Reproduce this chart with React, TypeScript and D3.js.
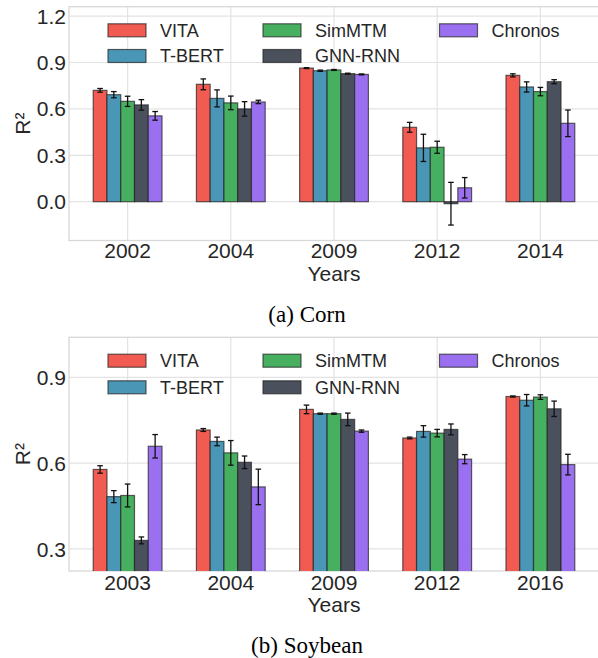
import React, { useEffect, useRef } from 'react';
import * as d3 from 'd3';

const methods = ['VITA', 'T-BERT', 'SimMTM', 'GNN-RNN', 'Chronos'];
const colors = ['#f25b51', '#4a96b6', '#46b060', '#4a505c', '#9b70f0'];

// Corn
const cornYears = ['2002', '2004', '2009', '2012', '2014'];
const cornVITA = [0.72, 0.759, 0.864, 0.481, 0.817];
const cornVITAErr = [0.012, 0.035, 0.003, 0.032, 0.01];
const cornTBERT = [0.692, 0.668, 0.847, 0.348, 0.742];
const cornTBERTErr = [0.02, 0.055, 0.004, 0.088, 0.033];
const cornSimMTM = [0.649, 0.639, 0.852, 0.352, 0.712];
const cornSimMTMErr = [0.033, 0.044, 0.003, 0.039, 0.027];
const cornGNNRNN = [0.626, 0.6, 0.828, -0.013, 0.776];
const cornGNNRNNErr = [0.034, 0.047, 0.003, 0.138, 0.013];
const cornChronos = [0.555, 0.645, 0.823, 0.09, 0.507];
const cornChronosErr = [0.028, 0.011, 0.003, 0.066, 0.086];
const cornTicks = [0, 0.3, 0.6, 0.9, 1.2];

// Soybean
const soyYears = ['2003', '2004', '2009', '2012', '2016'];
const soyVITA = [0.578, 0.716, 0.788, 0.688, 0.833];
const soyVITAErr = [0.013, 0.005, 0.015, 0.003, 0.002];
const soyTBERT = [0.483, 0.676, 0.773, 0.711, 0.82];
const soyTBERTErr = [0.021, 0.015, 0.002, 0.02, 0.02];
const soySimMTM = [0.487, 0.636, 0.773, 0.705, 0.831];
const soySimMTMErr = [0.04, 0.043, 0.002, 0.013, 0.008];
const soyGNNRNN = [0.33, 0.603, 0.753, 0.718, 0.79];
const soyGNNRNNErr = [0.012, 0.022, 0.022, 0.019, 0.027];
const soyChronos = [0.659, 0.517, 0.712, 0.614, 0.595];
const soyChronosErr = [0.041, 0.062, 0.004, 0.016, 0.036];
const soyTicks = [0.3, 0.6, 0.9];

const W = 598;
const H = 658;
const sans = '"Liberation Sans", Arial, sans-serif';
const serif = '"Liberation Serif", "Times New Roman", serif';

interface PanelCfg {
  id: string;
  years: string[];
  means: number[][];
  errs: number[][];
  ticks: number[];
  yDomain: [number, number];
  top: number;
  bottom: number;
  legendRows: [number, number];
  tickBase: number;
  labelBase: number;
  captionBase: number;
  caption: string;
}

const drawPanel = (
  svg: d3.Selection<SVGSVGElement, unknown, null, undefined>,
  cfg: PanelCfg,
) => {
  const left = 69;
  const right = 599;
  const x = d3.scaleLinear().domain([-0.568, 4.568]).range([left, right]);
  const y = d3.scaleLinear().domain(cfg.yDomain).range([cfg.bottom, cfg.top]);
  const bw = (x(1) - x(0)) * (0.8 / 6);

  const g = svg.append('g');

  g.append('clipPath')
    .attr('id', `clip-${cfg.id}`)
    .append('rect')
    .attr('x', left)
    .attr('y', cfg.top)
    .attr('width', right - left)
    .attr('height', cfg.bottom - cfg.top);

  // grid
  g.append('g')
    .selectAll('line')
    .data(cfg.ticks)
    .join('line')
    .attr('x1', left)
    .attr('x2', right)
    .attr('y1', (d) => y(d))
    .attr('y2', (d) => y(d))
    .attr('stroke', '#e3e3e3')
    .attr('stroke-width', 1.2);
  g.append('g')
    .selectAll('line')
    .data(cfg.years)
    .join('line')
    .attr('x1', (_, i) => x(i))
    .attr('x2', (_, i) => x(i))
    .attr('y1', cfg.top)
    .attr('y2', cfg.bottom)
    .attr('stroke', '#e3e3e3')
    .attr('stroke-width', 1.2);

  g.append('rect')
    .attr('x', left)
    .attr('y', cfg.top)
    .attr('width', right - left)
    .attr('height', cfg.bottom - cfg.top)
    .attr('fill', 'none')
    .attr('stroke', '#d8d8d8')
    .attr('stroke-width', 1.3);

  // bars
  const bars = g.append('g').attr('clip-path', `url(#clip-${cfg.id})`);
  cfg.means.forEach((vals, j) => {
    bars
      .append('g')
      .selectAll('rect')
      .data(vals)
      .join('rect')
      .attr('x', (_, i) => x(i) + (j - 2.5) * bw)
      .attr('width', bw)
      .attr('y', (d) => Math.min(y(d), y(0)))
      .attr('height', (d) => Math.abs(y(d) - y(0)))
      .attr('fill', colors[j])
      .attr('stroke', '#222')
      .attr('stroke-opacity', 0.7)
      .attr('stroke-width', 1.2);
  });

  // error bars
  const eg = g.append('g').attr('stroke', '#111').attr('stroke-width', 1.3);
  cfg.means.forEach((vals, j) => {
    vals.forEach((v, i) => {
      const cx = x(i) + (j - 2) * bw;
      const e = cfg.errs[j][i];
      eg.append('line')
        .attr('x1', cx)
        .attr('x2', cx)
        .attr('y1', y(v - e))
        .attr('y2', y(v + e));
      [v - e, v + e].forEach((c) =>
        eg
          .append('line')
          .attr('x1', cx - 2.8)
          .attr('x2', cx + 2.8)
          .attr('y1', y(c))
          .attr('y2', y(c)),
      );
    });
  });

  // y ticks
  g.append('g')
    .attr('font-family', sans)
    .attr('font-size', 21)
    .attr('fill', '#262626')
    .attr('text-anchor', 'end')
    .selectAll('text')
    .data(cfg.ticks)
    .join('text')
    .attr('x', 66)
    .attr('y', (d) => y(d))
    .attr('dy', '0.36em')
    .text((d) => d.toFixed(1));

  // x ticks
  g.append('g')
    .attr('font-family', sans)
    .attr('font-size', 21)
    .attr('fill', '#262626')
    .attr('text-anchor', 'middle')
    .selectAll('text')
    .data(cfg.years)
    .join('text')
    .attr('x', (_, i) => x(i))
    .attr('y', cfg.tickBase)
    .text((d) => d);

  g.append('text')
    .attr('x', x(2))
    .attr('y', cfg.labelBase)
    .attr('font-family', sans)
    .attr('font-size', 21)
    .attr('fill', '#262626')
    .attr('text-anchor', 'middle')
    .text('Years');

  const cy = (cfg.top + cfg.bottom) / 2;
  g.append('text')
    .attr('transform', `translate(23,${cy}) rotate(-90)`)
    .attr('font-family', sans)
    .attr('font-size', 21)
    .attr('fill', '#262626')
    .attr('text-anchor', 'middle')
    .attr('dy', '0.35em')
    .text('R²');

  // legend
  const cols = [108, 263, 439.5];
  const lg = g.append('g').attr('font-family', sans).attr('font-size', 18).attr('fill', '#262626');
  methods.forEach((m, k) => {
    const col = Math.floor(k / 2);
    const row = k % 2;
    const ly = cfg.legendRows[row];
    lg.append('rect')
      .attr('x', cols[col])
      .attr('y', ly - 6.5)
      .attr('width', 38)
      .attr('height', 13)
      .attr('fill', colors[k])
      .attr('stroke', '#222')
      .attr('stroke-opacity', 0.7)
      .attr('stroke-width', 1.2);
    lg.append('text')
      .attr('x', cols[col] + 52)
      .attr('y', ly)
      .attr('dy', '0.35em')
      .text(m);
  });

  svg
    .append('text')
    .attr('x', 307)
    .attr('y', cfg.captionBase)
    .attr('font-family', serif)
    .attr('font-size', 23)
    .attr('fill', '#000')
    .attr('text-anchor', 'middle')
    .text(cfg.caption);
};

const App = () => {
  const ref = useRef<SVGSVGElement>(null);

  useEffect(() => {
    if (!ref.current) {
      return;
    }
    const svg = d3.select(ref.current);
    svg.selectAll('*').remove();

    drawPanel(svg, {
      id: 'corn',
      years: cornYears,
      means: [cornVITA, cornTBERT, cornSimMTM, cornGNNRNN, cornChronos],
      errs: [cornVITAErr, cornTBERTErr, cornSimMTMErr, cornGNNRNNErr, cornChronosErr],
      ticks: cornTicks,
      yDomain: [-0.251, 1.261],
      top: 6.7,
      bottom: 240.5,
      legendRows: [30.3, 56],
      tickBase: 258.3,
      labelBase: 281,
      captionBase: 322.3,
      caption: '(a) Corn',
    });

    drawPanel(svg, {
      id: 'soy',
      years: soyYears,
      means: [soyVITA, soyTBERT, soySimMTM, soyGNNRNN, soyChronos],
      errs: [soyVITAErr, soyTBERTErr, soySimMTMErr, soyGNNRNNErr, soyChronosErr],
      ticks: soyTicks,
      yDomain: [0.223, 1.04],
      top: 337.3,
      bottom: 571,
      legendRows: [360.7, 387.3],
      tickBase: 590,
      labelBase: 611.7,
      captionBase: 653.3,
      caption: '(b) Soybean',
    });
  }, []);

  return (
    <svg
      ref={ref}
      width={W}
      height={H}
      viewBox={`0 0 ${W} ${H}`}
      style={{ position: 'absolute', left: 0, top: 0, background: '#fff' }}
    />
  );
};

export default App;
